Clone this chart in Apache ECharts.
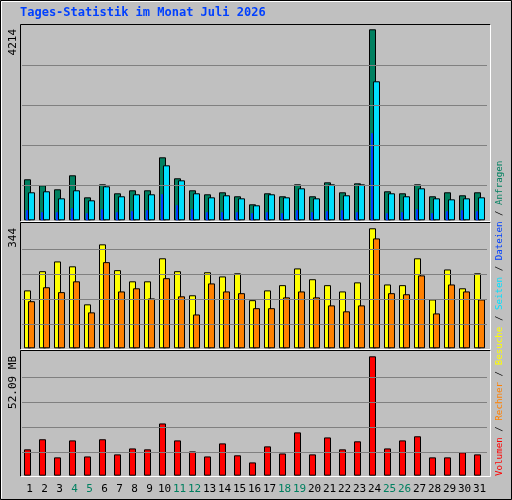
<!DOCTYPE html>
<html><head><meta charset="utf-8">
<script src="https://cdn.jsdelivr.net/npm/echarts@6/dist/echarts.min.js"></script>
<style>html,body{margin:0;padding:0;background:#c0c0c0}#c{width:512px;height:500px}</style>
</head><body><div id="c"></div>
<script>
const days = ['1','2','3','4','5','6','7','8','9','10','11','12','13','14','15','16','17','18','19','20','21','22','23','24','25','26','27','28','29','30','31'];
const weekend = ['4','5','11','12','18','19','25','26'];
const anfragen = [905,772,684,993,507,794,596,662,662,1390,927,662,574,618,530,353,596,530,794,530,838,618,816,4214,640,596,794,530,618,552,618];
const dateien = [618,640,485,662,441,750,530,574,574,1213,882,596,507,552,485,331,574,507,706,485,794,552,794,3067,596,530,706,485,463,485,507];
const seiten = [220,176,176,265,154,243,176,199,220,574,331,243,176,176,176,154,176,154,220,176,199,220,176,1919,154,176,243,154,199,220,199];
const besuche = [166,221,249,235,126,298,224,192,192,258,221,152,218,206,215,138,166,181,229,198,181,163,189,344,183,181,258,140,226,172,215];
const rechner = [135,175,161,192,103,247,163,172,143,201,149,97,186,163,158,115,115,146,163,146,123,106,123,315,158,155,209,100,183,163,140];
const volumen = [11.5,15.9,8.0,15.4,8.4,15.9,9.3,11.9,11.5,22.8,15.4,10.6,8.4,14.1,8.9,5.8,12.8,9.7,18.9,9.3,16.7,11.5,15.0,52.09,11.9,15.4,17.2,8.0,8.0,10.2,9.3];
const maxLabels = ['4214','344','52.09 MB'];
const title = 'Tages-Statistik im Monat Juli 2026';

const maxes = [4309, 356.3, 53.97];
const fracs = [[.181,.386,.590,.795],[.193,.394,.595,.796],[.189,.391,.593,.795]];
const grids = [{left:22,width:465,top:25,height:195.3},{left:22,width:465,top:224,height:124.3},{left:22,width:465,top:352,height:123.7}];
const mono = 'DejaVu Sans Mono';
const xAxes = [], yAxes = [];
const xa = (g,show)=>({type:'category',data:days,gridIndex:g,axisLine:{show:false},axisTick:{show:false},
  axisLabel:{show:show,margin:8,fontFamily:mono,fontSize:11,interval:0,
    formatter:v=>weekend.includes(v)?'{w|'+v+'}':'{n|'+v+'}',
    rich:{w:{color:'#008060',fontFamily:mono,fontSize:11},n:{color:'#000',fontFamily:mono,fontSize:11}}}});
// grid0: axes 0 (main), 1 (seiten); grid1: 2; grid2: 3
xAxes.push(xa(0,false), xa(0,false), xa(1,false), xa(2,true));
yAxes.push(...[0,0,1,2].map((g,i)=>({type:'value',gridIndex:g,min:0,max:maxes[g],show:false,splitLine:{show:false}})));
const bs = (name,data,color,xi,w,gap,z)=>({type:'bar',name,data,xAxisIndex:xi,yAxisIndex:xi,barWidth:w,barGap:gap,z,
  itemStyle:{color,borderColor:'#000',borderWidth:1},animation:false,silent:true});
const ml = (g)=>({silent:true,symbol:'none',label:{show:false},lineStyle:{color:'#808080',width:1,type:'solid'},
  data:fracs[g].map(f=>({yAxis:f*maxes[g]}))});
const series = [
  Object.assign(bs('Anfragen',anfragen,'#008060',0,7,'-42.86%',2),{markLine:ml(0)}),
  bs('Dateien',dateien,'#00e0ff',0,7,'-42.86%',4),
  bs('Seiten',seiten,'#0040ff',1,2,'150%',3),
  bs('x',[],'#000',1,2,'150%',3),
  Object.assign(bs('Besuche',besuche,'#ffff00',2,7,'-42.86%',2),{markLine:ml(1)}),
  bs('Rechner',rechner,'#ff8000',2,7,'-42.86%',3),
  Object.assign(bs('Volumen',volumen,'#ff0000',3,7,'-42.86%',2),{markLine:ml(2)}),
  bs('y',[],'#000',3,7,'-42.86%',2)
];
series[2].itemStyle.borderWidth=0;
const panelRects = [[20,24,491,222],[20,222,491,350],[20,350,491,477]];
const graphic = [
  {type:'rect',shape:{x:0.5,y:0.5,width:511,height:499},style:{fill:'none',stroke:'#000',lineWidth:1},z:-5},
  {type:'polyline',shape:{points:[[1.5,498.5],[1.5,1.5],[510.5,1.5]]},style:{fill:'none',stroke:'#fff',lineWidth:1},z:-5},
  {type:'text',left:20,top:7,style:{text:title,fill:'#0040ff',font:'bold 12px '+mono},z:10}
];
panelRects.forEach(r=>{
  graphic.push({type:'polyline',shape:{points:[[r[0]+.5,r[3]-.5],[r[0]+.5,r[1]+.5],[r[2]-.5,r[1]+.5]]},style:{fill:'none',stroke:'#000',lineWidth:1},z:-1});
  graphic.push({type:'polyline',shape:{points:[[r[0]+.5,r[3]-.5],[r[2]-.5,r[3]-.5],[r[2]-.5,r[1]+.5]]},style:{fill:'none',stroke:'#fff',lineWidth:1},z:-1});
});
[[13,29],[13,228],[13,356]].forEach((p,i)=>{
  graphic.push({type:'text',x:p[0],y:p[1],rotation:Math.PI/2,style:{text:maxLabels[i],fill:'#000',font:'11px '+mono,align:'right',verticalAlign:'middle'},z:10});
});
graphic.push({type:'text',x:500,y:476,rotation:Math.PI/2,
  style:{text:'{r|Volumen} {s|/} {o|Rechner} {s|/} {y|Besuche} {s|/} {c|Seiten} {s|/} {b|Dateien} {s|/} {g|Anfragen}',
  align:'left',verticalAlign:'middle',font:'9.2px '+mono,
  rich:{r:{fill:'#ff0000'},o:{fill:'#ff8000'},y:{fill:'#ffff00'},c:{fill:'#00e0ff'},b:{fill:'#0040ff'},g:{fill:'#008060'},s:{fill:'#000'}}},z:10});
const chart = echarts.init(document.getElementById('c'),null,{renderer:'canvas'});
chart.setOption({backgroundColor:'#c0c0c0',animation:false,grid:grids,xAxis:xAxes,yAxis:yAxes,series,graphic});
</script></body></html>
